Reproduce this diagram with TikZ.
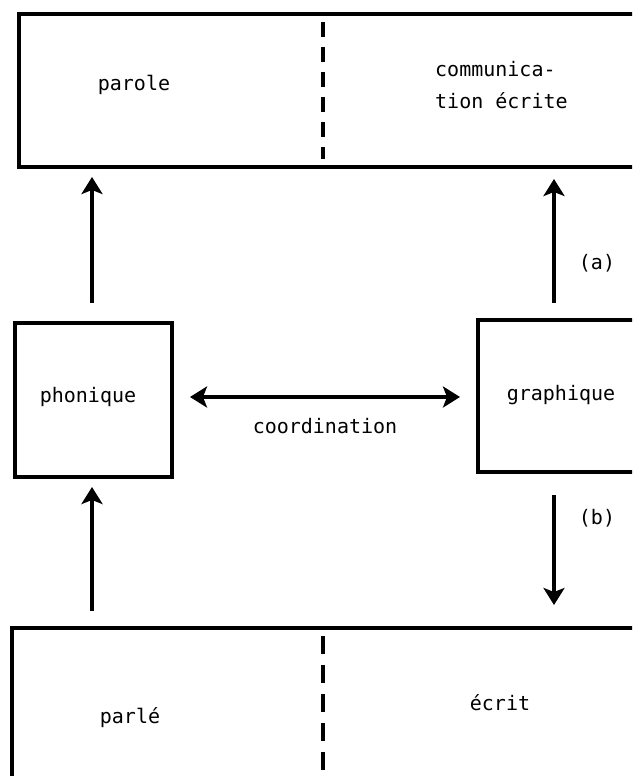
\documentclass[tikz,border=0pt]{standalone}
\usepackage{fontspec}
\setmonofont{DejaVu Sans Mono}
\usetikzlibrary{arrows.meta,calc}
\begin{document}
\begin{tikzpicture}[x=1pt,y=-1pt,
  box/.style={draw,line width=4pt,inner sep=0pt},
  lbl/.style={font=\ttfamily\fontsize{20}{32}\selectfont,inner sep=0pt},
  divline/.style={line width=3.6pt,dash pattern=on 15pt off 10pt},
  divlineb/.style={line width=3.6pt,dash pattern=on 18pt off 11pt},
  tip/.style={Stealth[length=17pt,width=21pt,inset=4pt]},
  arr/.style={line width=3.8pt,-{Stealth[length=17pt,width=21pt,inset=4pt]}},
  darr/.style={line width=3.8pt,{Stealth[length=17pt,width=21pt,inset=4pt]}-{Stealth[length=17pt,width=21pt,inset=4pt]}}]
\useasboundingbox (0,0) rectangle (632,776);
\clip (0,0) rectangle (632,776);
\fill[white] (0,0) rectangle (632,776);
\coordinate (lx) at (92,0);
\coordinate (rx) at (554,0);
\coordinate (dx) at (323,0);
% boxes
\node[box,minimum width=640pt,minimum height=153pt] (top) at (339,90.5) {};
\node[box,minimum width=157pt,minimum height=154pt] (phonique) at (93.5,400) {};
\node[box,minimum width=157pt,minimum height=152pt] (graphique) at (556.5,396) {};
\node[box,minimum width=650pt,minimum height=180pt] (bottom) at (337,718) {};
% dividers
\draw[divline] ($(top.north -| dx)+(0,10)$) -- ($(top.south -| dx)+(0,-10)$);
\draw[divlineb] ($(bottom.north -| dx)+(0,10)$) -- ($(bottom.south -| dx)$);
% texts
\node[lbl] (parole) at (134,85) {parole};
\node[lbl,align=left,anchor=west] (comm) at (435,85) {communica-\\tion écrite};
\node[lbl] (phon) at (88,397) {phonique};
\node[lbl] (graph) at (561,395) {graphique};
\node[lbl] (coord) at (325,426) {coordination};
\node[lbl] (parle) at (130,718) {parlé};
\node[lbl] (ecrit) at (500,703) {écrit};
\node[lbl] (a) at (597,263) {(a)};
\node[lbl] (b) at (597,518) {(b)};
% arrows
\draw[arr] ($(phonique.north -| lx)+(0,-18)$) -- ($(top.south -| lx)+(0,8)$);
\draw[arr] ($(graphique.north -| rx)+(0,-15)$) -- ($(top.south -| rx)+(0,10)$);
\draw[arr] ($(graphique.south -| rx)+(0,21)$) -- ($(bottom.north -| rx)+(0,-21)$);
\draw[arr] ($(bottom.north -| lx)+(0,-15)$) -- ($(phonique.south -| lx)+(0,8)$);
\draw[darr] ($(phonique.east)+(16,-3)$) -- ($(phonique.east -| graphique.west)+(-16,-3)$);
\end{tikzpicture}
\end{document}
